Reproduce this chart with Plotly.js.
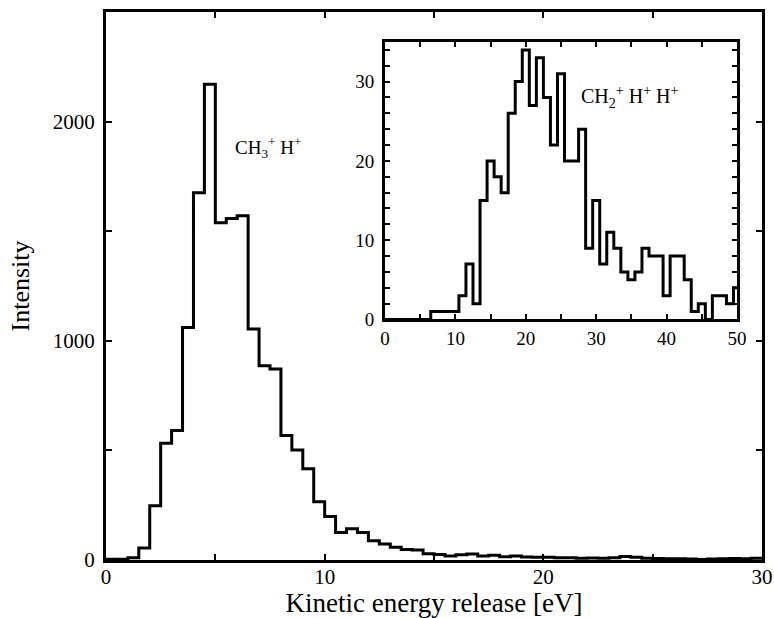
<!DOCTYPE html>
<html>
<head>
<meta charset="utf-8">
<script src="https://cdn.plot.ly/plotly-3.0.1.min.js"></script>
<style>html,body{margin:0;padding:0;background:#fff;}#chart{width:774px;height:618px;}</style>
</head>
<body>
<div id="chart"></div>
<script>
// Main histogram: CH3+ H+ (bin width 0.5 eV, left edges from 0)
var mainBinWidth = 0.5;
var mainCounts = [3, 3, 10, 55, 247, 533, 591, 1061, 1675, 2170, 1538, 1558, 1571, 1054, 886, 871,
  568, 502, 416, 266, 198, 126, 142, 126, 88, 73, 58, 48, 46, 28,
  25, 18, 24, 27, 18, 22, 15, 18, 14, 12, 12, 10, 10, 8, 9, 8,
  10, 16, 12, 8, 7, 6, 6, 4, 2, 4, 6, 7, 6, 8];

// Inset histogram: CH2+ H+ H+ (bins of 1 centred on integers 0..50)
var insetCenters = [0,1,2,3,4,5,6,7,8,9,10,11,12,13,14,15,16,17,18,19,20,21,22,23,24,25,
  26,27,28,29,30,31,32,33,34,35,36,37,38,39,40,41,42,43,44,45,46,47,48,49,50];
var insetCounts = [0,0,0,0,0,0,0,1,1,1,1,3,7,2,15,20,18,16,26,30,34,27,33,28,22,31,
  20,20,24,9,15,7,11,9,6,5,6,9,8,8,3,8,8,5,1,2,0,3,3,2,4];

// tick spacing: labelled step and minor step for each axis
var mainXTicks = {label: 10, minor: 5};
var mainYTicks = {label: 1000, minor: 500};
var insetXTicks = {label: 10, minor: 5};
var insetYTicks = {label: 10, minor: 2};

// step outline for main (hv with left edges, closing at right edge)
var mx = [], my = [];
for (var i = 0; i < mainCounts.length; i++) { mx.push(i * mainBinWidth); my.push(mainCounts[i]); }
mx.push(mainCounts.length * mainBinWidth); my.push(mainCounts[mainCounts.length - 1]);

var FONT = '"Liberation Serif", "Times New Roman", Times, serif';

var traces = [
  {x: mx, y: my, type: 'scatter', mode: 'lines', line: {shape: 'hv', color: '#000', width: 3},
   xaxis: 'x', yaxis: 'y', hoverinfo: 'skip'},
  {x: insetCenters, y: insetCounts, type: 'scatter', mode: 'lines', line: {shape: 'hvh', color: '#000', width: 3},
   xaxis: 'x2', yaxis: 'y2', hoverinfo: 'skip'}
];

function ax(spec, len, extra) {
  return Object.assign({
    showline: true, linecolor: '#000', linewidth: 3, mirror: 'allticks', ticks: 'inside',
    tickcolor: '#000', tickwidth: 2, ticklen: len, showgrid: false, zeroline: false,
    tickmode: 'linear', tick0: 0, dtick: spec.label,
    minor: {dtick: spec.minor, tick0: 0, ticks: 'inside', ticklen: len, tickwidth: 2, tickcolor: '#000', showgrid: false}
  }, extra);
}

var layout = {
  width: 774, height: 618,
  margin: {l: 106, r: 12, t: 12, b: 58},
  paper_bgcolor: '#fff', plot_bgcolor: '#fff',
  showlegend: false,
  font: {family: FONT, color: '#000', size: 21},
  xaxis: ax(mainXTicks, 6, {
    range: [0, 30], domain: [0, 1], tickfont: {size: 21, family: FONT}, ticklabelstandoff: -4,
    title: {text: 'Kinetic energy release [eV]', font: {size: 27, family: FONT}, standoff: 8}
  }),
  yaxis: ax(mainYTicks, 6, {
    range: [0, 2500], domain: [0, 1], tickfont: {size: 21, family: FONT}, ticklabelstandoff: 4,
    title: {text: 'Intensity', font: {size: 26, family: FONT}, standoff: 16}
  }),
  xaxis2: ax(insetXTicks, 5, {
    range: [0, 50], domain: [0.4253, 0.9619], anchor: 'y2', tickfont: {size: 19, family: FONT}
  }),
  yaxis2: ax(insetYTicks, 5, {
    range: [0, 35], domain: [0.4389, 0.9453], anchor: 'x2', tickfont: {size: 19, family: FONT}, ticklabelstandoff: 4
  }),
  annotations: [
    {text: 'CH<sub>3</sub><sup>+</sup> H<sup>+</sup>', x: 5.8, y: 1880, xref: 'x', yref: 'y',
     xanchor: 'left', yanchor: 'middle', showarrow: false, font: {size: 19, family: FONT, color: '#000'}},
    {text: 'CH<sub>2</sub><sup>+</sup> H<sup>+</sup> H<sup>+</sup>', x: 27.6, y: 28.0, xref: 'x2', yref: 'y2',
     xanchor: 'left', yanchor: 'middle', showarrow: false, font: {size: 20, family: FONT, color: '#000'}}
  ]
};

Plotly.newPlot('chart', traces, layout, {staticPlot: true, displayModeBar: false});
</script>
</body>
</html>
